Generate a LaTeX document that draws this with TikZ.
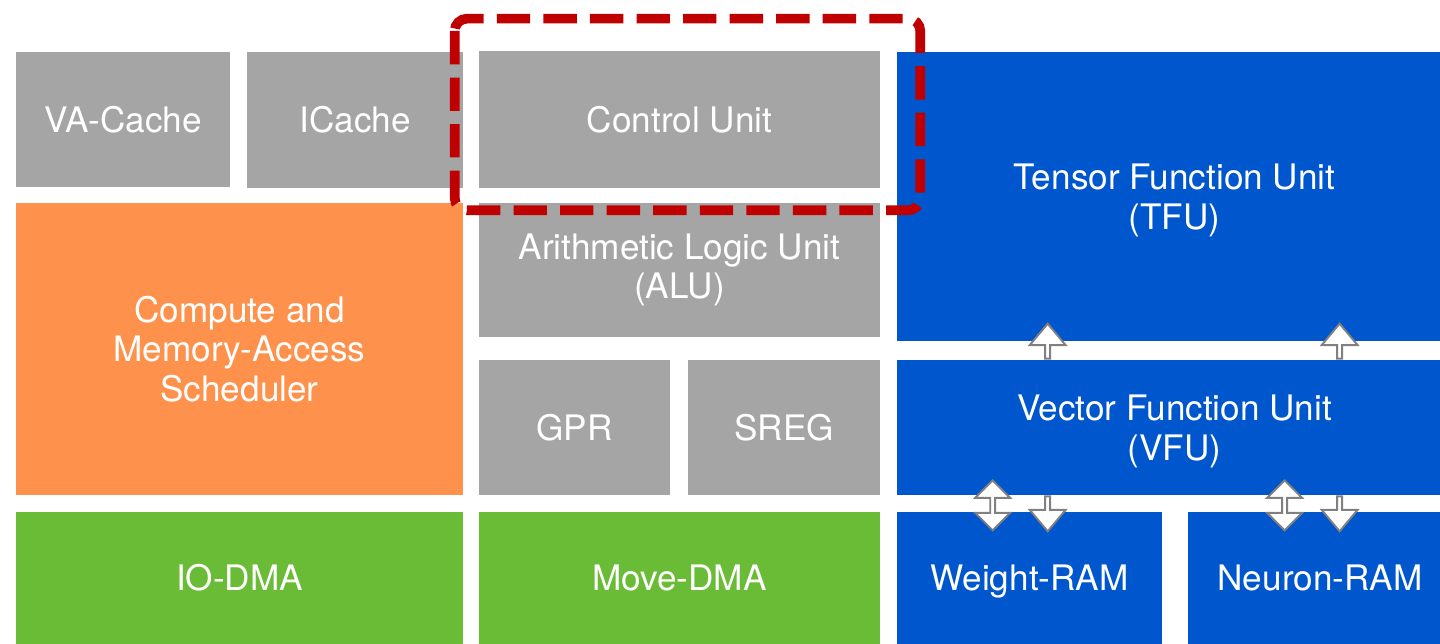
\documentclass[tikz,border=0pt]{standalone}
\usepackage{fontspec}
\setmainfont{TeX Gyre Heros}
\usepackage{tikz}
\usetikzlibrary{shapes.arrows, positioning}
\usepackage{xcolor}
\definecolor{unitgray}{RGB}{165,165,165}
\definecolor{unitorange}{RGB}{254,146,77}
\definecolor{unitgreen}{RGB}{106,187,53}
\definecolor{unitblue}{RGB}{0,86,204}
\definecolor{markred}{RGB}{192,0,0}

\begin{document}
\begin{tikzpicture}[x=0.02cm,y=-0.02cm]
    \tikzstyle{unit}=[shape=rectangle,inner sep=0pt,text=white,align=center,font=\fontsize{20}{22.5}\selectfont]
    \tikzstyle{grayunit}=[unit,fill=unitgray]
    \tikzstyle{orangeunit}=[unit,fill=unitorange]
    \tikzstyle{greenunit}=[unit,fill=unitgreen]
    \tikzstyle{blueunit}=[unit,fill=unitblue,text depth=0pt]
    \tikzstyle{uparrow}=[single arrow,draw=gray,fill=white,line width=1.1pt,inner sep=0pt,minimum width=0.72cm,single arrow head extend=0.12cm,single arrow tip angle=80,shape border rotate=90,minimum height=0.7cm]
    \tikzstyle{downarrow}=[uparrow,shape border rotate=270]
    \tikzstyle{busarrow}=[double arrow,draw=gray,fill=white,line width=1.1pt,inner sep=0pt,minimum width=0.7cm,double arrow head extend=0.12cm,double arrow tip angle=90,shape border rotate=90,minimum height=1.0cm]
    \tikzstyle{focus}=[draw=markred,line width=5.5pt,dash pattern=on 19pt off 7.5pt,rounded corners=7pt]

    \useasboundingbox (0,0) rectangle (1440,644);

    % left column
    \node[grayunit, minimum width=4.28cm, minimum height=2.70cm] (VAC) at (123,119.5) {VA-Cache};
    \node[grayunit, minimum width=4.32cm, minimum height=2.72cm] (IC) at (355,120) {ICache};
    \node[orangeunit, minimum width=8.94cm, minimum height=5.84cm] (CMS) at (239.5,349) {Compute and\\Memory-Access\\Scheduler};
    \node[greenunit, minimum width=8.94cm, minimum height=2.64cm] (IOD) at (239.5,578) {IO-DMA};

    % middle column
    \node[grayunit, minimum width=8.02cm, minimum height=2.74cm] (CU) at (679.5,119.5) {Control Unit};
    \node[grayunit, minimum width=8.02cm, minimum height=2.68cm] (ALU) at (679.5,270) {Arithmetic Logic Unit\\(ALU)};
    \node[grayunit, minimum width=3.82cm, minimum height=2.70cm] (GPR) at (574.5,427.5) {GPR};
    \node[grayunit, minimum width=3.84cm, minimum height=2.70cm] (SREG) at (784,427.5) {SREG};
    \node[greenunit, minimum width=8.02cm, minimum height=2.64cm] (MD) at (679.5,578) {Move-DMA};

    % right column
    \node[blueunit, minimum width=11.10cm, minimum height=5.78cm] (TFU) at (1174.5,196.5) {Tensor Function Unit\\(TFU)};
    \node[blueunit, minimum width=11.10cm, minimum height=2.70cm] (VFU) at (1174.5,427.5) {Vector Function Unit\\(VFU)};
    \node[blueunit, minimum width=5.30cm, minimum height=2.64cm] (WR) at (1029.5,578) {Weight-RAM};
    \node[blueunit, minimum width=5.28cm, minimum height=2.64cm] (NR) at (1320,578) {Neuron-RAM};

    % data paths
    \node[uparrow, anchor=tail, xshift=3.02cm] (UA1) at (VFU.north west) {};
    \node[uparrow, anchor=tail, xshift=8.86cm] (UA2) at (VFU.north west) {};
    \node[busarrow, xshift=1.92cm, yshift=-0.2cm] (BA1) at (VFU.south west) {};
    \node[downarrow, anchor=tail, xshift=3.02cm] (DA1) at (VFU.south west) {};
    \node[busarrow, xshift=7.76cm, yshift=-0.2cm] (BA2) at (VFU.south west) {};
    \node[downarrow, anchor=tail, xshift=8.86cm] (DA2) at (VFU.south west) {};

    % highlight
    \draw[focus] ([xshift=-0.48cm,yshift=0.64cm]CU.north west) rectangle ([xshift=0.8cm,yshift=-0.44cm]CU.south east);
\end{tikzpicture}
\end{document}
